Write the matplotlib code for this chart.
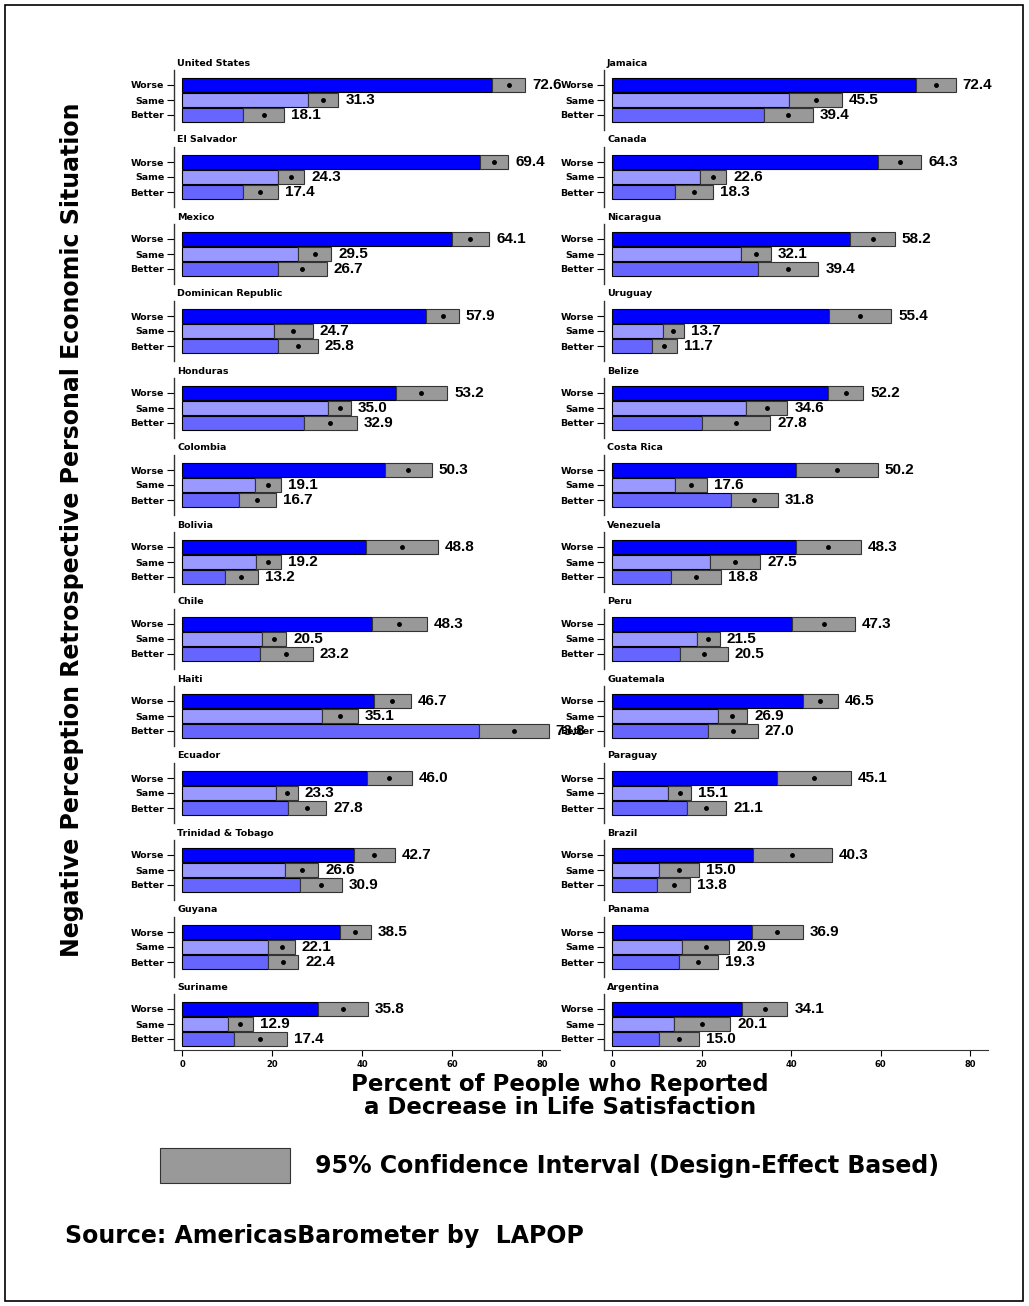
import matplotlib
matplotlib.use('Agg')
import matplotlib.pyplot as plt
from matplotlib.patches import Rectangle

plt.rcParams['font.family'] = ['DejaVu Sans']

# left column
countries_l = ['United States', 'El Salvador', 'Mexico', 'Dominican Republic', 'Honduras',
               'Colombia', 'Bolivia', 'Chile', 'Haiti', 'Ecuador', 'Trinidad & Tobago',
               'Guyana', 'Suriname']
worse_l = [72.6, 69.4, 64.1, 57.9, 53.2, 50.3, 48.8, 48.3, 46.7, 46.0, 42.7, 38.5, 35.8]
same_l = [31.3, 24.3, 29.5, 24.7, 35.0, 19.1, 19.2, 20.5, 35.1, 23.3, 26.6, 22.1, 12.9]
better_l = [18.1, 17.4, 26.7, 25.8, 32.9, 16.7, 13.2, 23.2, 73.8, 27.8, 30.9, 22.4, 17.4]
# half widths of the 95% CI
worse_ci_l = [3.7, 3.1, 4.2, 3.6, 5.7, 5.2, 8.0, 6.1, 4.1, 5.0, 4.6, 3.5, 5.5]
same_ci_l = [3.4, 2.9, 3.7, 4.3, 2.5, 2.9, 2.8, 2.7, 4.0, 2.4, 3.7, 2.9, 2.8]
better_ci_l = [4.5, 3.9, 5.4, 4.4, 5.9, 4.1, 3.7, 5.8, 7.7, 4.2, 4.6, 3.4, 5.9]

# right column
countries_r = ['Jamaica', 'Canada', 'Nicaragua', 'Uruguay', 'Belize', 'Costa Rica',
               'Venezuela', 'Peru', 'Guatemala', 'Paraguay', 'Brazil', 'Panama', 'Argentina']
worse_r = [72.4, 64.3, 58.2, 55.4, 52.2, 50.2, 48.3, 47.3, 46.5, 45.1, 40.3, 36.9, 34.1]
same_r = [45.5, 22.6, 32.1, 13.7, 34.6, 17.6, 27.5, 21.5, 26.9, 15.1, 15.0, 20.9, 20.1]
better_r = [39.4, 18.3, 39.4, 11.7, 27.8, 31.8, 18.8, 20.5, 27.0, 21.1, 13.8, 19.3, 15.0]
worse_ci_r = [4.4, 4.8, 5.0, 7.0, 3.9, 9.2, 7.3, 7.0, 3.9, 8.2, 8.8, 5.7, 5.1]
same_ci_r = [5.9, 2.9, 3.4, 2.4, 4.6, 3.6, 5.6, 2.6, 3.3, 2.6, 4.4, 5.3, 6.3]
better_ci_r = [5.5, 4.2, 6.7, 2.8, 7.6, 5.2, 5.6, 5.4, 5.5, 4.4, 3.7, 4.4, 4.4]

row_labels = ['Worse', 'Same', 'Better']
bar_colors = ['#0000ff', '#9999ff', '#6666ff']
ci_color = '#999999'
xticks = [0, 20, 40, 60, 80]

W, H = 1029, 1306
fig = plt.figure(figsize=(W / 100, H / 100), dpi=100)


def px_axes(x0, y0, x1, y1):
    # pixel box (top-left origin) -> figure axes
    return fig.add_axes([x0 / W, 1 - y1 / H, (x1 - x0) / W, (y1 - y0) / H])


def draw_column(x0, x1, names, worse, same, better, cw, cs, cb):
    n = len(names)
    for i in range(n):
        top = 70 + 77 * i
        last = i == n - 1
        bottom = 1050 if last else top + 60
        ax = px_axes(x0, top, x1, bottom)
        vals = [worse[i], same[i], better[i]]
        cis = [cw[i], cs[i], cb[i]]
        for j in range(3):
            lo = vals[j] - cis[j]
            hi = vals[j] + cis[j]
            ax.barh(j, lo, left=0, height=0.87, color=bar_colors[j],
                    edgecolor='black', linewidth=0.8)
            ax.barh(j, hi - lo, left=lo, height=0.87, color=ci_color,
                    edgecolor='#333333', linewidth=0.8)
            ax.plot(vals[j], j, 'o', color='black', markersize=2.5)
            ax.annotate(f'{vals[j]:.1f}', xy=(hi, j), xytext=(7, 0),
                        textcoords='offset pixels', va='center', ha='left',
                        fontsize=11, fontweight='bold', family='Liberation Sans')
        ax.set_xlim(-1.8, 84)
        lower = -1 + (bottom - top) / 15
        ax.set_ylim(lower, -1)
        ax.set_yticks(range(3))
        ax.set_yticklabels(row_labels, fontsize=6.8, fontweight='bold')
        ax.tick_params(axis='y', length=5, pad=2, width=0.8)
        for s in ['top', 'right']:
            ax.spines[s].set_visible(False)
        ax.spines['left'].set_linewidth(1.0)
        ax.spines['left'].set_color('#333333')
        if last:
            ax.set_xticks(xticks)
            ax.set_xticklabels([str(t) for t in xticks], fontsize=6, fontweight='bold')
            ax.tick_params(axis='x', length=4, pad=3, width=0.8)
            ax.spines['bottom'].set_color('#333333')
        else:
            ax.spines['bottom'].set_visible(False)
            ax.set_xticks([])
        ax.set_facecolor('none')
        ax.annotate(names[i], xy=(0, 1), xycoords='axes fraction', xytext=(3, 7),
                    textcoords='offset pixels', va='center', ha='left',
                    fontsize=6.8, fontweight='bold')


draw_column(174, 560, countries_l, worse_l, same_l, better_l, worse_ci_l, same_ci_l, better_ci_l)
draw_column(604, 988, countries_r, worse_r, same_r, better_r, worse_ci_r, same_ci_r, better_ci_r)

fig.text(72 / W, 1 - 530 / H, 'Negative Perception Retrospective Personal Economic Situation',
         rotation=90, ha='center', va='center', fontsize=17, fontweight='bold')
fig.text(560 / W, 1 - 1096 / H, 'Percent of People who Reported\na Decrease in Life Satisfaction',
         ha='center', va='center', fontsize=16.5, fontweight='bold', linespacing=1.0)

fig.patches.append(Rectangle((160 / W, 1 - 1183 / H), 130 / W, 35 / H, transform=fig.transFigure,
                             facecolor=ci_color, edgecolor='#333333', linewidth=0.8))
fig.text(315 / W, 1 - 1166 / H, '95% Confidence Interval (Design-Effect Based)',
         ha='left', va='center', fontsize=17, fontweight='bold')
fig.text(65 / W, 1 - 1236 / H, 'Source: AmericasBarometer by  LAPOP',
         ha='left', va='center', fontsize=17, fontweight='bold')

# frame round the figure
fig.patches.append(Rectangle((5 / W, 5 / H), 1018 / W, 1296 / H, transform=fig.transFigure,
                             facecolor='none', edgecolor='black', linewidth=1.2))

fig.savefig('out.png', dpi=100)
